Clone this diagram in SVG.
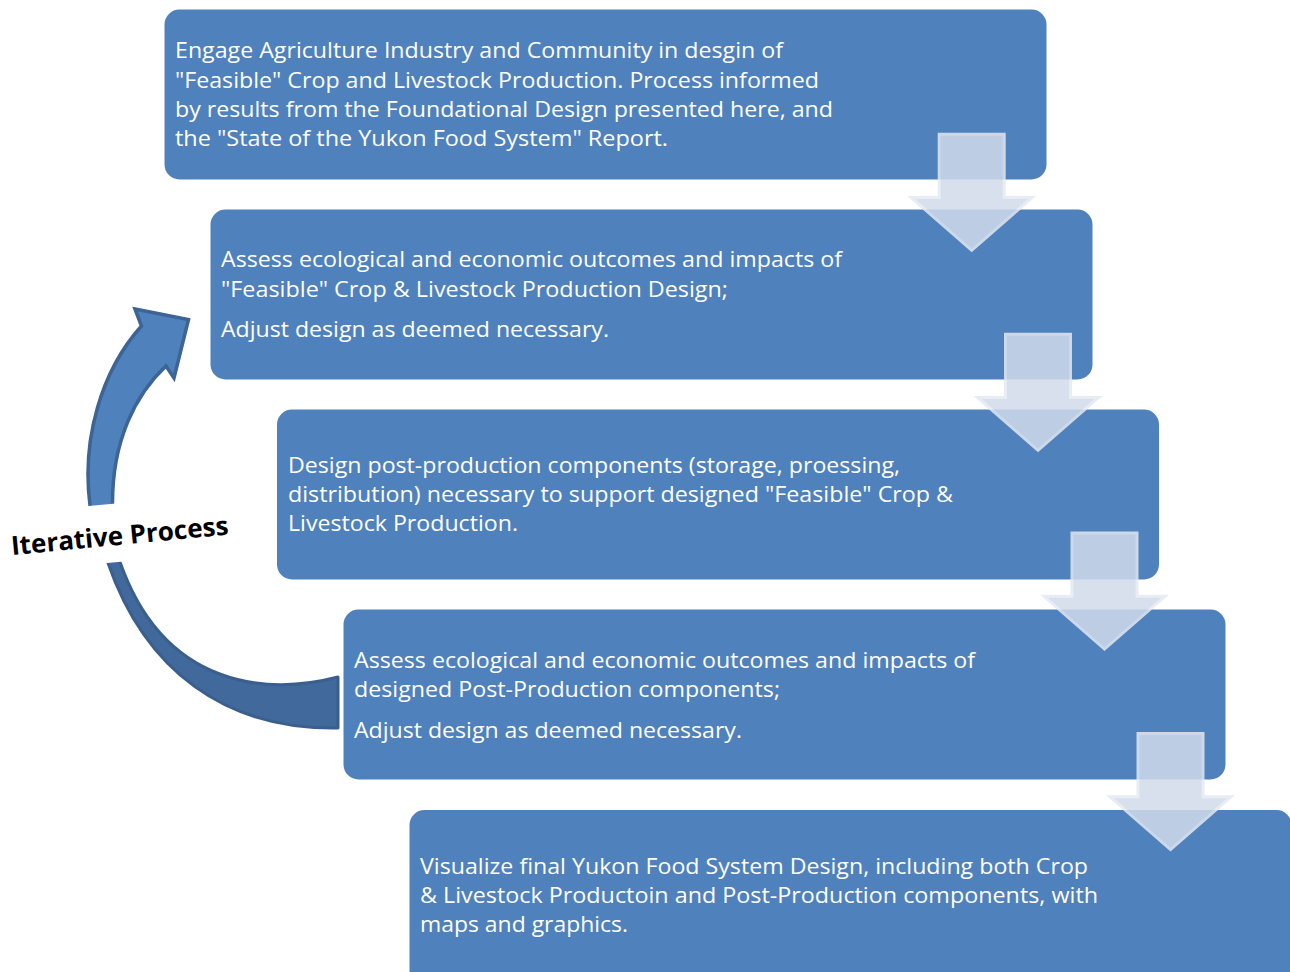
<svg xmlns="http://www.w3.org/2000/svg" xmlns:xlink="http://www.w3.org/1999/xlink" width="1290" height="972" viewBox="0 0 1290 972">
  <style>
    .box { fill: #4f81bd; }
    .txt { font-family: "Open Sans", "Noto Sans", "Liberation Sans", sans-serif; font-size: 21px; fill: #ffffff; }
    .label { font-family: "Open Sans", "Noto Sans", "Liberation Sans", sans-serif; font-size: 26px; font-weight: bold; fill: #000000; }
    .down { fill: #d1dbea; stroke: #e4e9f2; stroke-width: 3; }
  </style>
  <defs>
    <!-- block arrow pointing down, origin at top centre of the shaft -->
    <path id="downArrow" d="M -32.5,1.5 H 32.5 V 64.8 H 60.5 L 0,117.6 L -60.5,64.8 H -32.5 Z"/>
  </defs>

  <rect width="1290" height="972" fill="#ffffff"/>

  <!-- iterative loop arrow on the left -->
  <g id="loop-arrow">
    <path d="M 105.5,554 L 108,563 C 145,670 225,730 338,728 L 338,677 C 270,695 165,690 120,562 L 117.5,554 Z"
          fill="#41699b" stroke="#3a5f8d" stroke-width="3" stroke-linejoin="round"/>
    <path d="M 135,309 L 188.5,319.5 L 174,378 L 166,366 C 136,394 112,440 112.5,505 L 112.5,522 L 90,522 L 90,505 C 81.5,440 101,371 141.5,326 Z"
          fill="#4f81bd" stroke="#3c6494" stroke-width="3.5" stroke-linejoin="miter"/>
    <!-- label band cutting through the loop -->
    <polygon points="70,507.8 145,500.7 145,559.4 70,566.5" fill="#ffffff"/>
    <text class="label" transform="translate(12,555) rotate(-5.4)" textLength="218" lengthAdjust="spacingAndGlyphs">Iterative Process</text>
  </g>

  <g id="step1">
    <rect class="box" x="164.5" y="9.5" width="882" height="170" rx="15"/>
    <text class="txt" x="175" y="58.3" textLength="608" lengthAdjust="spacingAndGlyphs">Engage Agriculture Industry and Community in desgin of</text>
    <text class="txt" x="175" y="87.5" textLength="644" lengthAdjust="spacingAndGlyphs">"Feasible" Crop and Livestock Production. Process informed</text>
    <text class="txt" x="175" y="116.7" textLength="658" lengthAdjust="spacingAndGlyphs">by results from the Foundational Design presented here, and</text>
    <text class="txt" x="175" y="145.9" textLength="493" lengthAdjust="spacingAndGlyphs">the "State of the Yukon Food System" Report.</text>
  </g>

  <g id="step2">
    <rect class="box" x="210.5" y="209.5" width="882" height="170" rx="15"/>
    <text class="txt" x="221" y="267.3" textLength="621" lengthAdjust="spacingAndGlyphs">Assess ecological and economic outcomes and impacts of</text>
    <text class="txt" x="221" y="297.3" textLength="507" lengthAdjust="spacingAndGlyphs">"Feasible" Crop &amp; Livestock Production Design;</text>
    <text class="txt" x="221" y="337.3" textLength="388" lengthAdjust="spacingAndGlyphs">Adjust design as deemed necessary.</text>
  </g>

  <g id="step3">
    <rect class="box" x="277" y="409.5" width="882" height="170" rx="15"/>
    <text class="txt" x="288" y="473" textLength="612" lengthAdjust="spacingAndGlyphs">Design post-production components (storage, proessing,</text>
    <text class="txt" x="288" y="502.2" textLength="665" lengthAdjust="spacingAndGlyphs">distribution) necessary to support designed "Feasible" Crop &amp;</text>
    <text class="txt" x="288" y="531.4" textLength="230" lengthAdjust="spacingAndGlyphs">Livestock Production.</text>
  </g>

  <g id="step4">
    <rect class="box" x="343.5" y="609.5" width="882" height="170" rx="15"/>
    <text class="txt" x="354" y="667.6" textLength="621" lengthAdjust="spacingAndGlyphs">Assess ecological and economic outcomes and impacts of</text>
    <text class="txt" x="354" y="696.8" textLength="426" lengthAdjust="spacingAndGlyphs">designed Post-Production components;</text>
    <text class="txt" x="354" y="737.6" textLength="388" lengthAdjust="spacingAndGlyphs">Adjust design as deemed necessary.</text>
  </g>

  <g id="step5">
    <rect class="box" x="409.5" y="810" width="882" height="185" rx="15"/>
    <text class="txt" x="420" y="873.8" textLength="668" lengthAdjust="spacingAndGlyphs">Visualize final Yukon Food System Design, including both Crop</text>
    <text class="txt" x="420" y="903" textLength="678" lengthAdjust="spacingAndGlyphs">&amp; Livestock Productoin and Post-Production components, with</text>
    <text class="txt" x="420" y="932.2" textLength="208" lengthAdjust="spacingAndGlyphs">maps and graphics.</text>
  </g>

  <!-- connectors between consecutive steps -->
  <g id="connectors" opacity="0.85">
    <use xlink:href="#downArrow" class="down" transform="translate(971.7,132.7)"/>
    <use xlink:href="#downArrow" class="down" transform="translate(1038,332.7)"/>
    <use xlink:href="#downArrow" class="down" transform="translate(1104.5,531.5)"/>
    <use xlink:href="#downArrow" class="down" transform="translate(1170.5,732)"/>
  </g>
</svg>
